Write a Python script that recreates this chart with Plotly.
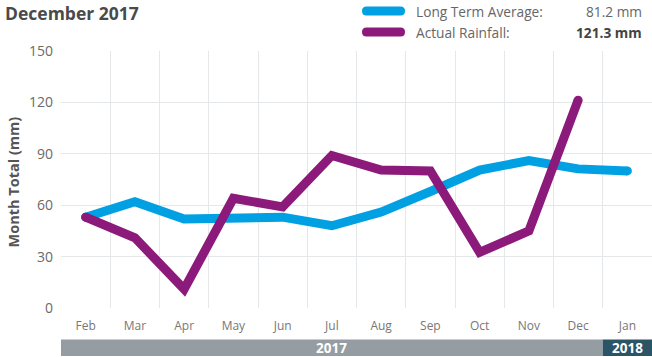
import plotly.graph_objects as go

months = ["Feb", "Mar", "Apr", "May", "Jun", "Jul", "Aug", "Sep", "Oct", "Nov", "Dec", "Jan"]
long_term_avg = [53, 62, 52, 53, 53, 48, 56, 68, 80.5, 86, 81.2, 80]
actual_rain = [53, 41, 11, 64, 59, 89, 80.5, 80, 32.5, 45, 121.3]
year_labels = ["2017", "2018"]
year_spans = [("Feb", "Dec"), ("Jan", "Jan")]
title_text = "December 2017"
legend_names = ["Long Term Average:", "Actual Rainfall:"]
legend_values = ["81.2 mm", "121.3 mm"]

BLUE = "#00A0E2"
PURPLE = "#8C1A7B"
GRAY_BAR = "#959DA2"
DARK_BAR = "#2B5467"
FONT = "Open Sans"

W, H = 652, 357
L, R, T, B = 61, 0, 51, 49
PW, PH = W - L - R, H - T - B


def px(xp):
    return (xp - L) / PW


def py(yp):
    return (H - B - yp) / PH


fig = go.Figure()

for vals, col in [(long_term_avg, BLUE), (actual_rain, PURPLE)]:
    xs = months[:len(vals)]
    fig.add_trace(go.Scatter(x=xs, y=vals, mode="lines",
                             line=dict(color=col, width=9), hoverinfo="skip",
                             showlegend=False, cliponaxis=False))
    fig.add_trace(go.Scatter(x=[xs[0], xs[-1]], y=[vals[0], vals[-1]], mode="markers",
                             marker=dict(color=col, size=9, line=dict(width=0)),
                             hoverinfo="skip", showlegend=False, cliponaxis=False))

shapes = []
annotations = []

# year bar below axis
for lab, (a, b), col in zip(year_labels, year_spans, [GRAY_BAR, DARK_BAR]):
    i0, i1 = months.index(a), months.index(b)
    shapes.append(dict(type="rect", xref="x", yref="paper",
                       x0=i0 - 0.5, x1=i1 + 0.5, y0=py(356), y1=py(339.5),
                       fillcolor=col, line=dict(width=0), layer="above"))
    annotations.append(dict(x=(i0 + i1) / 2, y=py(348), xref="x", yref="paper",
                            text="<b>%s</b>" % lab, showarrow=False,
                            font=dict(family=FONT, size=13.5, color="white"),
                            xanchor="center", yanchor="middle"))

# title
annotations.append(dict(x=px(3), y=py(13), xref="paper", yref="paper",
                        text="<b>%s</b>" % title_text, showarrow=False,
                        font=dict(family=FONT, size=17.5, color="#4a4a4a"),
                        xanchor="left", yanchor="middle"))

# custom legend
for k, (name, val, col) in enumerate(zip(legend_names, legend_values, [BLUE, PURPLE])):
    yc = 11 + 21 * k
    x0, x1, r = 362, 405, 4.5
    path = ("M {a},{t} L {b},{t} Q {x1},{t} {x1},{c} Q {x1},{bo} {b},{bo} "
            "L {a},{bo} Q {x0},{bo} {x0},{c} Q {x0},{t} {a},{t} Z").format(
        a=px(x0 + r), b=px(x1 - r), x0=px(x0), x1=px(x1),
        t=py(yc - r), bo=py(yc + r), c=py(yc))
    shapes.append(dict(type="path", xref="paper", yref="paper", path=path,
                       fillcolor=col, line=dict(width=0)))
    annotations.append(dict(x=px(414), y=py(yc + 0.5), xref="paper", yref="paper",
                            text=name, showarrow=False,
                            font=dict(family=FONT, size=13.7, color="#666666"),
                            xanchor="left", yanchor="middle"))
    vtxt = val if k == 0 else "<b>%s</b>" % val
    annotations.append(dict(x=px(644), y=py(yc + 0.5), xref="paper", yref="paper",
                            text=vtxt, showarrow=False,
                            font=dict(family=FONT, size=13.7,
                                      color="#666666" if k == 0 else "#444444"),
                            xanchor="right", yanchor="middle"))

# y-axis title
annotations.append(dict(x=px(12.5), y=py(182), xref="paper", yref="paper",
                        text="<b>Month Total (mm)</b>", showarrow=False, textangle=-90,
                        font=dict(family=FONT, size=14.5, color="#555555"),
                        xanchor="center", yanchor="middle"))

fig.update_layout(
    width=W, height=H,
    margin=dict(l=L, r=R, t=T, b=B, pad=0),
    paper_bgcolor="white", plot_bgcolor="white",
    shapes=shapes, annotations=annotations,
    font=dict(family=FONT, color="#666666"),
    xaxis=dict(type="category", categoryarray=months, categoryorder="array",
               range=[-0.5, 11.5], tickson="boundaries", showgrid=True,
               gridcolor="#E4E8EA", gridwidth=1, ticks="", zeroline=False,
               showline=False, tickfont=dict(family=FONT, size=12, color="#777777"),
               ticklabelstandoff=9, fixedrange=True),
    yaxis=dict(range=[0, 150], tickvals=[0, 30, 60, 90, 120, 150],
               showgrid=True, gridcolor="#E4E8EA", gridwidth=1, zeroline=False,
               showline=False, ticks="",
               tickfont=dict(family=FONT, size=14, color="#6a6a6a"),
               ticklabelstandoff=7, fixedrange=True),
)

fig.write_html("out.html", config={"displayModeBar": False},
               post_script="document.body.style.margin='0';document.body.style.overflow='hidden';")
